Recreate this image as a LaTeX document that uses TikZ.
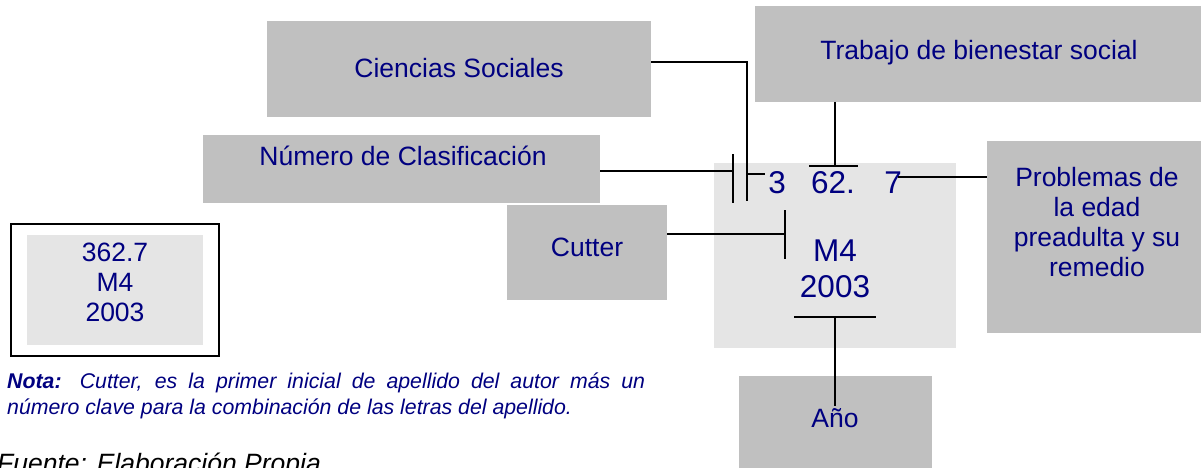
\documentclass[tikz,border=0pt]{standalone}
\usepackage{fontspec}
\setmainfont{Liberation Sans}
\definecolor{boxgray}{HTML}{C0C0C0}
\definecolor{lightgray}{HTML}{E5E5E5}
\definecolor{navy}{HTML}{000080}
\tikzset{
  graybox/.style={fill=boxgray, draw=none, inner sep=0pt},
  lbl/.style={text=navy, font=\fontsize{26.5}{30}\selectfont, inner sep=0pt, align=center},
  big/.style={text=navy, font=\fontsize{31.5}{34}\selectfont, inner sep=0pt},
  conn/.style={draw=black, line width=1.6pt},
}
\begin{document}
\begin{tikzpicture}[x=1pt,y=-1pt]
\useasboundingbox (0,0) rectangle (1201,468);
% boxes
\node[graybox, minimum width=384pt, minimum height=96pt] (cs) at (459,69) {};
\node[graybox, minimum width=446pt, minimum height=96pt] (tb) at (978,54) {};
\node[graybox, minimum width=397pt, minimum height=68pt] (nc) at (401.5,169) {};
\node[graybox, minimum width=160pt, minimum height=95pt] (cu) at (587,252.5) {};
\node[graybox, minimum width=214pt, minimum height=192pt] (pr) at (1094,237) {};
\node[graybox, minimum width=193pt, minimum height=92pt] (an) at (835.5,422) {};
\node[fill=lightgray, inner sep=0pt, minimum width=242pt, minimum height=185pt] (mn) at (835,255.5) {};
% left sample
\node[draw=black, line width=1.6pt, inner sep=0pt, minimum width=208pt, minimum height=132pt] (lo) at (115,290) {};
\node[fill=lightgray, inner sep=0pt, minimum width=176pt, minimum height=110pt] (li) at (115,290) {};
\node[lbl] (lt) at (115,282) {362.7\\M4\\2003};
% labels
\node[lbl] (cst) at (459,68) {Ciencias Sociales};
\node[lbl] (tbt) at (979,53) {Trabajo de bienestar social};
\node[lbl] (nct) at (403,156) {Número de Clasificación};
\node[lbl] (cut) at (587,247) {Cutter};
\node[lbl] (prt) at (1097,222) {Problemas de\\la edad\\preadulta y su\\remedio};
\node[lbl] (ant) at (835,418) {Año};
% main call number
\node[big] (d3) at (777,183) {3};
\node[big] (d62) at (833,183) {62.};
\node[big] (d7) at (893,183) {7};
\node[big] (m4) at (835,251) {M4};
\node[big] (yr) at (835,287) {2003};
% connector coordinates
\coordinate (csa) at (651,62);
\coordinate (csb) at (747,62);
\coordinate (csc) at (747,201);
\coordinate (csd) at (747,174);
\coordinate (cse) at (765,174);
\coordinate (nca) at (600,171);
\coordinate (ncb) at (733,171);
\coordinate (nct1) at (733,154);
\coordinate (nct2) at (733,203);
\coordinate (tba) at (835,102);
\coordinate (tbb) at (835,166);
\coordinate (tbl) at (809,166);
\coordinate (tbr) at (858,166);
\coordinate (pra) at (898,177);
\coordinate (prb) at (987,177);
\coordinate (cua) at (667,234);
\coordinate (cub) at (785,234);
\coordinate (cut1) at (785,210);
\coordinate (cut2) at (785,259);
\coordinate (anl) at (794,317);
\coordinate (anr) at (876,317);
\coordinate (ana) at (835,317);
\coordinate (anb) at (835,406);
% connectors
\draw[conn] (csa) -- (csb) -- (csc);
\draw[conn] (csd) -- (cse);
\draw[conn] (nca) -- (ncb);
\draw[conn] (nct1) -- (nct2);
\draw[conn] (tba) -- (tbb);
\draw[conn] (tbl) -- (tbr);
\draw[conn] (pra) -- (prb);
\draw[conn] (cua) -- (cub);
\draw[conn] (cut1) -- (cut2);
\draw[conn] (anl) -- (anr);
\draw[conn] (ana) -- (anb);
% note
\node[anchor=north west, inner sep=0pt, text width=638pt, align=justify, text=navy,
  font=\fontsize{21.3}{26}\selectfont\itshape] (nota) at (7,373)
  {\textbf{Nota:} Cutter, es la primer inicial de apellido del autor más un\linebreak número clave para la combinación de las letras del apellido.};
\node[anchor=base west, inner sep=0pt, font=\fontsize{26.5}{30}\selectfont\itshape] (fuente) at (-3,472) {Fuente: Elaboración Propia};
\end{tikzpicture}
\end{document}
